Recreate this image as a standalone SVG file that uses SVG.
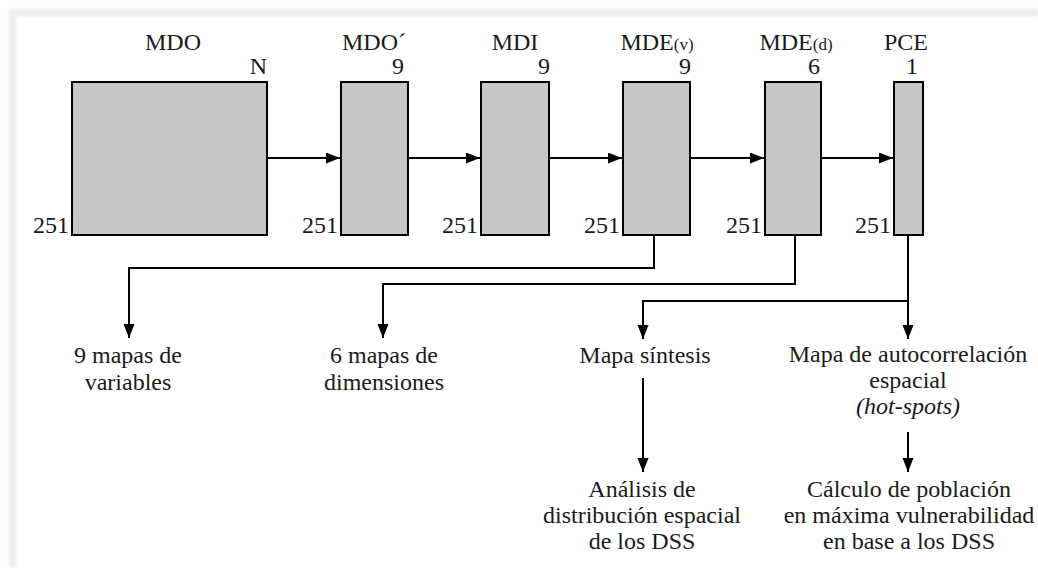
<svg xmlns="http://www.w3.org/2000/svg" width="1038" height="568" viewBox="0 0 1038 568">
<style>
.box{fill:#c6c6c6;stroke:#000;stroke-width:2}
.ln{fill:none;stroke:#000;stroke-width:2}
text{font-family:"Liberation Serif","Times New Roman",serif;font-size:24px;fill:#1a1a1a}
.c{text-anchor:middle}
.r{text-anchor:end}
.sm{font-size:17px}
.it{font-style:italic}
</style>
<defs>
<marker id="ah" markerUnits="userSpaceOnUse" markerWidth="15" markerHeight="12" refX="14" refY="5.5" orient="auto">
<path d="M0,0 L14,5.5 L0,11 z" fill="#000"/>
</marker>
<filter id="bl" x="-5%" y="-5%" width="110%" height="110%"><feGaussianBlur stdDeviation="1.5"/></filter>
</defs>
<rect width="1038" height="568" fill="#fff"/>
<g id="frame" filter="url(#bl)" fill="#ececec">
<rect x="9" y="9" width="1029" height="7"/>
<rect x="9" y="9" width="7" height="559"/>
</g>
<g id="n-mdo">
<rect class="box" x="72" y="82" width="195" height="153"/>
<text class="c" x="173" y="50">MDO</text>
<text class="r" x="267" y="74">N</text>
<text class="r" x="69" y="233">251</text>
</g>
<g id="n-mdo2">
<rect class="box" x="341" y="82" width="67" height="153"/>
<text class="c" x="374" y="50">MDO´</text>
<text class="r" x="404" y="74">9</text>
<text class="r" x="338" y="233">251</text>
</g>
<g id="n-mdi">
<rect class="box" x="481" y="82" width="68" height="153"/>
<text class="c" x="515" y="50">MDI</text>
<text class="r" x="550" y="74">9</text>
<text class="r" x="478" y="233">251</text>
</g>
<g id="n-mdev">
<rect class="box" x="623" y="82" width="67" height="153"/>
<text class="c" x="657" y="50">MDE<tspan class="sm">(v)</tspan></text>
<text class="r" x="691" y="74">9</text>
<text class="r" x="620" y="233">251</text>
</g>
<g id="n-mded">
<rect class="box" x="765" y="82" width="56" height="153"/>
<text class="c" x="796" y="50">MDE<tspan class="sm">(d)</tspan></text>
<text class="r" x="820" y="74">6</text>
<text class="r" x="762" y="233">251</text>
</g>
<g id="n-pce">
<rect class="box" x="894" y="82" width="29" height="153"/>
<text class="c" x="906" y="50">PCE</text>
<text class="r" x="918" y="74">1</text>
<text class="r" x="891" y="233">251</text>
</g>
<g id="connectors">
<line class="ln" x1="268" y1="158" x2="340" y2="158" marker-end="url(#ah)"/>
<line class="ln" x1="409" y1="158" x2="480" y2="158" marker-end="url(#ah)"/>
<line class="ln" x1="550" y1="158" x2="622" y2="158" marker-end="url(#ah)"/>
<line class="ln" x1="691" y1="158" x2="764" y2="158" marker-end="url(#ah)"/>
<line class="ln" x1="822" y1="158" x2="893" y2="158" marker-end="url(#ah)"/>
<polyline class="ln" points="654,236 654,268 129,268 129,338" marker-end="url(#ah)"/>
<polyline class="ln" points="795,236 795,284 383,284 383,338" marker-end="url(#ah)"/>
<line class="ln" x1="908" y1="236" x2="908" y2="339" marker-end="url(#ah)"/>
<polyline class="ln" points="908,301 643,301 643,339" marker-end="url(#ah)"/>
<line class="ln" x1="643" y1="378" x2="643" y2="472" marker-end="url(#ah)"/>
<line class="ln" x1="908" y1="432" x2="908" y2="472" marker-end="url(#ah)"/>
</g>
<g id="n-var">
<text class="c" x="128" y="363">9 mapas de</text>
<text class="c" x="128" y="390">variables</text>
</g>
<g id="n-dim">
<text class="c" x="384" y="363">6 mapas de</text>
<text class="c" x="384" y="390">dimensiones</text>
</g>
<g id="n-sintesis">
<text class="c" x="645" y="363">Mapa síntesis</text>
</g>
<g id="n-autocorr">
<text class="c" x="908" y="362">Mapa de autocorrelación</text>
<text class="c" x="908" y="388">espacial</text>
<text class="c it" x="908" y="414">(hot-spots)</text>
</g>
<g id="n-analisis">
<text class="c" x="642" y="497">Análisis de</text>
<text class="c" x="642" y="523">distribución espacial</text>
<text class="c" x="642" y="549">de los DSS</text>
</g>
<g id="n-calculo">
<text class="c" x="909" y="497">Cálculo de población</text>
<text class="c" x="909" y="523">en máxima vulnerabilidad</text>
<text class="c" x="909" y="549">en base a los DSS</text>
</g>
</svg>
